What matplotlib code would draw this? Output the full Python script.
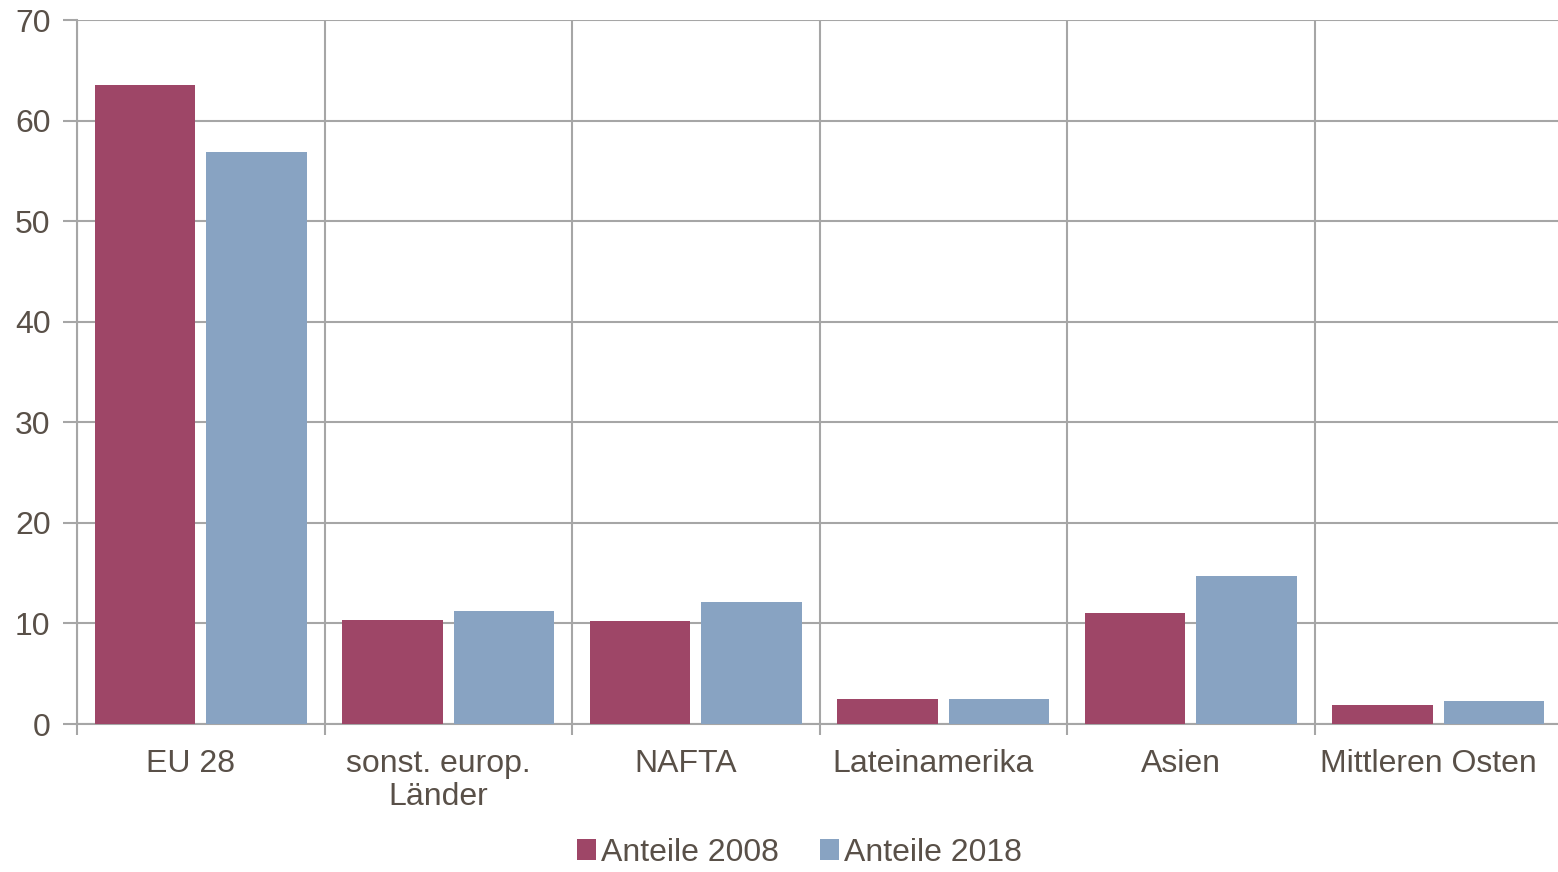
import numpy as np
import matplotlib.pyplot as plt

plt.rcParams['font.family'] = ['Liberation Sans', 'DejaVu Sans']

# Daten
regionen = ['EU 28', 'sonst. europ.\nLänder', 'NAFTA', 'Lateinamerika', 'Asien', 'Mittleren Osten']
anteile_2008 = [63.5, 10.3, 10.2, 2.5, 11.0, 1.9]
anteile_2018 = [56.9, 11.2, 12.1, 2.5, 14.7, 2.3]

farbe_2008 = '#9E4667'
farbe_2018 = '#88A3C2'
textfarbe = '#595048'
gitter = '#A6A6A6'

fig = plt.figure(figsize=(15.58, 8.72), dpi=100)
ax = fig.add_axes([77 / 1558, 1 - 724 / 872, 1485 / 1558, 704 / 872])

x = np.arange(len(regionen))
breite = 0.405
ax.bar(x - 0.225, anteile_2008, breite, color=farbe_2008, label='Anteile 2008', zorder=3)
ax.bar(x + 0.225, anteile_2018, breite, color=farbe_2018, label='Anteile 2018', zorder=3)

ax.set_xlim(-0.5, len(regionen) - 0.5)
ax.set_ylim(0, 70)
ax.set_yticks(range(0, 71, 10))

# Vertikale Linien an den Kategoriegrenzen
grenzen = np.arange(-0.5, len(regionen), 1.0)
ax.set_xticks(grenzen)
ax.set_xticklabels([])
ax.set_xticks(x - 0.04, minor=True)
ax.set_xticklabels(regionen, minor=True)
ax.tick_params(axis='x', which='minor', length=0, pad=18)
ax.tick_params(axis='x', which='major', length=8, width=1.5, color=gitter)
ax.tick_params(axis='y', length=10, width=1.5, color=gitter, pad=9)
ax.tick_params(which='both', labelsize=23, labelcolor=textfarbe)
for lbl in ax.get_xticklabels(minor=True):
    lbl.set_linespacing(1.15)

ax.grid(axis='y', color=gitter, lw=1.5, zorder=0)
for g in grenzen:
    ax.axvline(g, color=gitter, lw=1.5, zorder=0)

for s in ['top', 'right']:
    ax.spines[s].set_visible(False)
for s in ['left', 'bottom']:
    ax.spines[s].set_color(gitter)
    ax.spines[s].set_linewidth(1.5)

fig.legend(loc='lower center', bbox_to_anchor=(0.513, -0.028), ncol=2, frameon=False,
           fontsize=23, labelcolor=textfarbe, handlelength=0.6, handleheight=0.6,
           handletextpad=0.15, columnspacing=1.3)

fig.savefig('out.png', dpi=100)
